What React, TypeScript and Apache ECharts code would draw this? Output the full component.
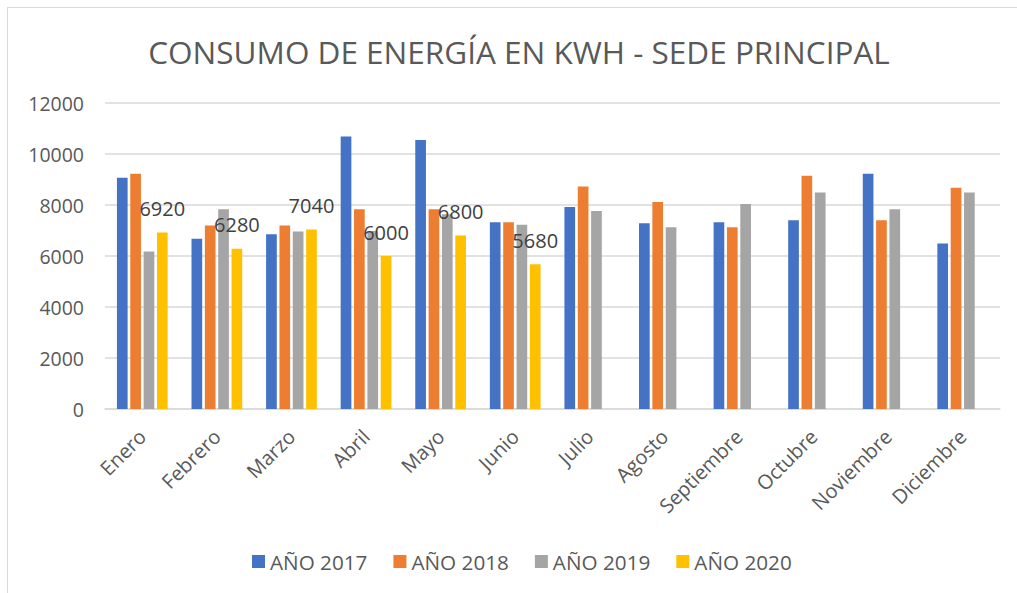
import React, { useEffect, useRef } from "react";
import * as echarts from "echarts";

const categories = ["Enero", "Febrero", "Marzo", "Abril", "Mayo", "Junio", "Julio", "Agosto", "Septiembre", "Octubre", "Noviembre", "Diciembre"];
const seriesNames = ["AÑO 2017", "AÑO 2018", "AÑO 2019", "AÑO 2020"];
const values2017 = [9070, 6680, 6850, 10690, 10550, 7320, 7920, 7280, 7320, 7400, 9230, 6490];
const values2018 = [9230, 7200, 7200, 7830, 7830, 7320, 8730, 8120, 7130, 9150, 7400, 8680];
const values2019 = [6180, 7830, 6960, 6980, 7640, 7230, 7760, 7130, 8040, 8490, 7830, 8490];
const values2020 = [6920, 6280, 7040, 6000, 6800, 5680, null, null, null, null, null, null];
const colors = ["#4472C4", "#ED7D31", "#A5A5A5", "#FFC000"];
const title = "CONSUMO DE ENERGÍA EN KWH - SEDE PRINCIPAL";

const FONT = "'Open Sans', 'Noto Sans', sans-serif";

export default function App() {
  const ref = useRef<HTMLDivElement>(null);
  useEffect(() => {
    if (!ref.current) return;
    const chart = echarts.init(ref.current, undefined, { renderer: "svg" });
    const all = [values2017, values2018, values2019, values2020];
    chart.setOption({
      animation: false,
      textStyle: { fontFamily: FONT },
      title: {
        text: title,
        left: 506,
        textAlign: "center",
        top: 22,
        textStyle: { fontSize: 31.5, fontWeight: "normal", color: "#595959", fontFamily: FONT },
      },
      legend: {
        left: 239,
        top: 538,
        itemWidth: 13,
        itemHeight: 13,
        itemGap: 26,
        icon: "rect",
        textStyle: { fontSize: 20.7, color: "#595959", fontFamily: FONT },
        data: seriesNames,
      },
      grid: { left: 97, right: 17, top: 95, bottom: 184, containLabel: false },
      xAxis: {
        type: "category",
        data: categories,
        axisLine: { lineStyle: { color: "#d9d9d9", width: 1.5 } },
        axisTick: { show: false },
        axisLabel: { rotate: 45, fontSize: 20, color: "#595959", margin: 24, interval: 0, fontFamily: FONT },
      },
      yAxis: {
        type: "value",
        min: 0,
        max: 12000,
        interval: 2000,
        axisLine: { show: false },
        axisTick: { show: false },
        splitLine: { lineStyle: { color: "#d9d9d9", width: 1.5 } },
        axisLabel: {
          fontSize: 19.5,
          color: "#595959",
          margin: 21,
          fontFamily: FONT,
          formatter: (v: number) => String(v),
        },
      },
      series: all.map((d, i) => ({
        name: seriesNames[i],
        type: "bar",
        data: d,
        barCategoryGap: "32%",
        barGap: "25%",
        itemStyle: { color: colors[i] },
        label:
          i === 3
            ? { show: true, position: "top", distance: 14, fontSize: 20, color: "#404040", fontFamily: FONT }
            : { show: false },
      })),
    });
    return () => chart.dispose();
  }, []);
  return (
    <div
      style={{
        position: "absolute",
        left: 7,
        top: 7,
        width: 1010,
        height: 586,
        boxSizing: "border-box",
        borderTop: "1px solid #d9d9d9",
        borderLeft: "1px solid #d9d9d9",
        background: "#fff",
      }}
    >
      <div ref={ref} style={{ width: 1009, height: 585 }} />
    </div>
  );
}
